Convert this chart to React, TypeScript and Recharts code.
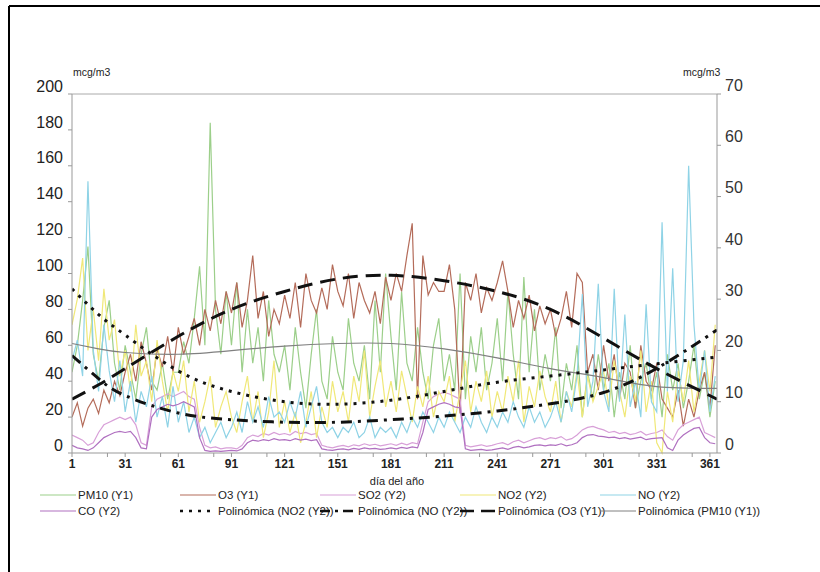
import React from 'react';
import { LineChart, Line, XAxis, YAxis, ReferenceLine } from 'recharts';

// daily readings, sampled every 3rd day of the year
const DAYS = Array.from({ length: 122 }, (_, i) => 1 + i * 3);
const TREND_DAYS = [1, 16, 31, 61, 91, 121, 151, 181, 211, 241, 271, 301, 331, 365];

const X_LABELS = [1, 31, 61, 91, 121, 151, 181, 211, 241, 271, 301, 331, 361];
const X_MINOR = [21, 51, 81, 111, 141, 171, 201, 231, 261, 291, 321, 351];
const Y1_TICKS = [0, 20, 40, 60, 80, 100, 120, 140, 160, 180, 200];
const Y2_TICKS = [0, 10, 20, 30, 40, 50, 60, 70];

// Y1 (left axis)
const PM10 = [
  45, 60, 85, 115, 55, 40, 70, 85, 50, 35,
  60, 45, 30, 55, 70, 40, 35, 50, 30, 45,
  45, 62, 50, 75, 104, 60, 184, 80, 55, 90,
  60, 95, 45, 80, 50, 70, 40, 85, 55, 45,
  60, 35, 70, 45, 25, 55, 80, 40, 30, 65,
  45, 35, 75, 50, 40, 60, 30, 85, 45, 100,
  65, 35, 90, 50, 40, 70, 45, 30, 60, 75,
  40, 55, 35, 100, 30, 65, 45, 70, 35, 50,
  75, 40, 90, 55, 30, 98, 45, 80, 35, 55,
  40, 70, 25, 50, 35, 60, 20, 45, 30, 55,
  35, 50, 20, 45, 30, 60, 25, 40, 50, 30,
  45, 20, 55, 35, 50, 25, 40, 60, 30, 45, 20, 40,
];
const O3 = [
  20, 28, 15, 25, 30, 22, 35, 28, 40, 32,
  45, 55, 40, 62, 50, 35, 58, 48, 65, 45,
  70, 55, 65, 75, 60, 80, 68, 85, 72, 90,
  78, 95, 70, 85, 110, 75, 90, 65, 80, 72,
  88, 75, 95, 70, 100, 85, 78, 92, 80, 105,
  90, 82, 100, 75, 95, 85, 78, 90, 72, 98,
  85, 100, 90, 110, 128, 30, 110, 88, 95, 90,
  90, 105, 80, 22, 95, 85, 100, 78, 92, 85,
  95, 107, 90, 70, 85, 75, 88, 68, 82, 72,
  80, 65, 75, 90, 70, 100, 95, 45, 55, 35,
  60, 40, 55, 30, 50, 45, 25, 60, 40, 35,
  50, 30, 25, 20, 35, 15, 30, 20, 35, 45, 25, 60,
];
// Y2 (right axis)
const SO2 = [
  3.5, 3, 2.5, 1.5, 2, 4, 5.5, 6, 6.5, 7,
  6.5, 7, 5.5, 2, 1.5, 9, 10.5, 11, 11.5, 11,
  11.5, 12, 11, 10.5, 5, 1.5, 1, 1.2, 0.8, 1,
  1, 0.8, 1.5, 3, 3.5, 3.2, 3.8, 3.5, 4, 3.6,
  3.8, 3.5, 4.2, 3.8, 4, 3.6, 3.8, 1.5, 1.2, 1,
  1.3, 1.5, 1.2, 1.6, 1.4, 1.8, 1.5, 1.7, 1.4, 1.6,
  1.8, 1.5, 1.9, 1.6, 2, 1.8, 6, 10, 11, 11.5,
  11.8, 11.5, 11, 10.5, 1.5, 1.2, 1.4, 1.6, 1.3, 1.5,
  1.8, 2, 1.6, 2.2, 2.5, 2, 2.4, 2.8, 3, 2.6,
  3, 2.8, 3.2, 2.5, 2.8, 3.5, 4.5, 5, 5.2, 4.8,
  4.5, 4, 4.2, 3.8, 4, 3.6, 3.8, 4.2, 3.5, 3.8,
  4, 4.5, 3.2, 2.5, 4.5, 5.5, 6, 6.5, 7, 4, 3.5, 3,
];
const NO2 = [
  25, 30, 38, 20, 28, 18, 32, 22, 26, 15,
  20, 12, 25, 15, 18, 10, 22, 14, 8, 16,
  12, 18, 8, 14, 6, 10, 15, 5, 9, 12,
  7, 4, 10, 15, 6, 12, 3, 8, 18, 5,
  10, 4, 8, 2, 6, 12, 3, 9, 5, 14,
  8, 12, 6, 15, 10, 20, 7, 13, 18, 9,
  14, 8, 16, 11, 6, 13, 9, 15, 7, 12,
  10, 15, 6, 12, 18, 8, 14, 10, 16, 7,
  12, 8, 15, 10, 18, 6, 13, 9, 16, 11,
  8, 14, 6, 12, 9, 16, 7, 15, 10, 13,
  16, 9, 18, 12, 7, 15, 10, 20, 8, 14,
  2, 0, 12, 6, 16, 10, 18, 8, 14, 20, 12, 25,
];
const NO = [
  18, 22, 15, 53, 20, 12, 25, 16, 10, 18,
  8, 14, 6, 12, 9, 15, 7, 11, 5, 13,
  6, 10, 4, 7, 3, 5, 2, 4, 6, 3,
  5, 8, 4, 10, 6, 9, 5, 11, 7, 8,
  6, 10, 7, 12, 5, 9, 13, 6, 4, 5,
  3, 5, 4, 6, 3, 4, 7, 3, 5, 4,
  5, 3, 6, 4, 7, 5, 8, 6, 4, 7,
  5, 8, 6, 4, 7, 5, 9, 6, 4, 7,
  5, 8, 6, 10, 7, 5, 9, 6, 8, 5,
  7, 10, 6, 12, 8, 15, 31, 9, 14, 33,
  12, 8, 32, 10, 27, 9, 14, 7, 29, 10,
  8, 45, 12, 36, 10, 18, 56, 25, 12, 20, 8, 15,
];
const CO = [
  1.5, 1, 0.8, 0.5, 1, 2, 3, 3.5, 4, 4.2,
  4, 4.2, 3, 1, 0.8, 7, 8.5, 9, 9.5, 9.2,
  9.5, 10, 9.5, 9, 3, 0.5, 0.3, 0.4, 0.3, 0.4,
  0.5, 0.4, 0.8, 2, 2.5, 2.3, 2.6, 2.4, 2.8, 2.5,
  2.6, 2.4, 2.8, 2.5, 2.7, 2.4, 2.6, 0.8, 0.6, 0.5,
  0.7, 0.8, 0.6, 0.9, 0.7, 1, 0.8, 0.9, 0.7, 0.8,
  1, 0.8, 1.1, 0.9, 1.2, 1, 4, 8.5, 9, 9.5,
  9.8, 9.5, 9, 8.8, 0.8, 0.5, 0.6, 0.7, 0.5, 0.6,
  0.8, 1, 0.7, 1.1, 1.3, 1, 1.2, 1.5, 1.6, 1.4,
  1.6, 1.5, 1.8, 1.4, 1.6, 2, 3, 3.5, 3.6, 3.3,
  3.2, 3, 3.1, 2.8, 3, 2.7, 2.9, 3.1, 2.6, 2.8,
  2.9, 3, 1, 0.5, 2.5, 3.5, 4.2, 4.8, 5, 3, 2, 1.8,
];

// polynomial trendlines
const NO2_POLY = [32, 27, 23, 16, 12, 10, 9.5, 10.3, 12, 13.8, 15, 16.2, 17.4, 18.7];
const NO_POLY = [19, 14.5, 11.2, 7.8, 6.5, 6, 6, 6.5, 7.2, 8.2, 9.6, 11.8, 16.5, 24];
const O3_POLY = [30, 38, 47, 65, 80, 90, 97, 99, 96, 90, 80, 64, 47, 30];
const PM10_POLY = [61, 58, 56, 55, 57, 59.5, 61, 61, 58, 53, 47, 42, 37, 36];

const C = {
  pm10: '#9ccf8a',
  o3: '#b46c5a',
  so2: '#d8a0d8',
  no2: '#f0e878',
  no: '#8fd3e6',
  co: '#b070c0',
  trend: '#111',
  pmTrend: '#808080',
};

const FONT = '"Liberation Sans", Arial, sans-serif';

const toPoints = (values: number[], days: number[]) =>
  values.map((v, i) => ({ day: days[i], v }));

const LeftTick = (props: any) => (
  <text x={props.x} y={props.y - 8} dy="0.355em" textAnchor="end" fontSize={16} fill="#222" fontFamily={FONT}>
    {props.payload.value}
  </text>
);

const RightTick = (props: any) => (
  <text x={props.x} y={props.y - 9} dy="0.355em" textAnchor="start" fontSize={16} fill="#333" fontFamily={FONT}>
    {props.payload.value}
  </text>
);

const XTick = (props: any) => {
  const v = props.payload.value;
  if (!X_LABELS.includes(v)) return <g />;
  return (
    <text x={props.x} y={props.y} dy="0.71em" textAnchor="middle" fontSize={12} fontWeight="bold" fill="#222" fontFamily={FONT}>
      {v}
    </text>
  );
};

const LEGEND = [
  { label: 'PM10 (Y1)', x: 40, row: 0, color: C.pm10, dash: undefined, w: 1.2 },
  { label: 'O3 (Y1)', x: 180, row: 0, color: C.o3, dash: undefined, w: 1.2 },
  { label: 'SO2 (Y2)', x: 320, row: 0, color: C.so2, dash: undefined, w: 1.2 },
  { label: 'NO2 (Y2)', x: 460, row: 0, color: C.no2, dash: undefined, w: 1.2 },
  { label: 'NO (Y2)', x: 600, row: 0, color: C.no, dash: undefined, w: 1.2 },
  { label: 'CO (Y2)', x: 40, row: 1, color: C.co, dash: undefined, w: 1.2 },
  { label: 'Polinómica (NO2 (Y2))', x: 180, row: 1, color: C.trend, dash: '3 6', w: 2.5 },
  { label: 'Polinómica (NO (Y2))', x: 320, row: 1, color: C.trend, dash: '10 5 3 5', w: 2.5 },
  { label: 'Polinómica (O3 (Y1))', x: 460, row: 1, color: C.trend, dash: '14 7', w: 2.5 },
  { label: 'Polinómica (PM10 (Y1))', x: 600, row: 1, color: C.pmTrend, dash: undefined, w: 1 },
];

const Overlay = () => (
  <svg width={820} height={572} style={{ position: 'absolute', left: 0, top: 0, pointerEvents: 'none' }}>
    <line x1={9} y1={6} x2={820} y2={6} stroke="#000" strokeWidth={2} />
    <line x1={9} y1={6} x2={9} y2={572} stroke="#000" strokeWidth={2} />
    <text x={73} y={76} fontSize={10.5} fill="#222" fontFamily={FONT}>mcg/m3</text>
    <text x={683} y={76} fontSize={10.5} fill="#222" fontFamily={FONT}>mcg/m3</text>
    <text x={397} y={485} fontSize={11} fill="#222" textAnchor="middle" fontFamily={FONT}>día del año</text>
    {LEGEND.map((item) => {
      const y = item.row === 0 ? 495 : 511;
      return (
        <g key={item.label}>
          <line x1={item.x} y1={y} x2={item.x + 36} y2={y} stroke={item.color} strokeWidth={item.w} strokeDasharray={item.dash} />
          <text x={item.x + 38} y={y} dy="0.355em" fontSize={11.5} fill="#222" fontFamily={FONT}>{item.label}</text>
        </g>
      );
    })}
  </svg>
);

const App = () => {
  const raw = [
    { key: 'pm10', values: PM10, axis: 'y1', color: C.pm10 },
    { key: 'o3', values: O3, axis: 'y1', color: C.o3 },
    { key: 'so2', values: SO2, axis: 'y2', color: C.so2 },
    { key: 'no2', values: NO2, axis: 'y2', color: C.no2 },
    { key: 'no', values: NO, axis: 'y2', color: C.no },
    { key: 'co', values: CO, axis: 'y2', color: C.co },
  ];
  const trends = [
    { key: 'pm10p', values: PM10_POLY, axis: 'y1', color: C.pmTrend, dash: undefined, w: 1.2 },
    { key: 'no2p', values: NO2_POLY, axis: 'y2', color: C.trend, dash: '3 6', w: 3 },
    { key: 'nop', values: NO_POLY, axis: 'y2', color: C.trend, dash: '11 6 3 6', w: 3 },
    { key: 'o3p', values: O3_POLY, axis: 'y1', color: C.trend, dash: '15 8', w: 3 },
  ];

  return (
    <div style={{ position: 'absolute', left: 0, top: 0, width: 820, height: 572, background: '#fff', fontFamily: FONT }}>
      <LineChart width={820} height={572} margin={{ top: 94, right: 43, bottom: 89, left: 0 }}>
        <XAxis
          dataKey="day"
          type="number"
          domain={[1, 365]}
          ticks={[...X_LABELS, ...X_MINOR].sort((a, b) => a - b)}
          interval={0}
          height={30}
          stroke="#999"
          tickSize={4}
          tickMargin={2}
          tick={<XTick />}
          allowDataOverflow
        />
        <YAxis
          yAxisId="y1"
          domain={[0, 200]}
          ticks={Y1_TICKS}
          interval={0}
          width={72}
          stroke="#999"
          tickSize={4}
          tickMargin={5}
          tick={<LeftTick />}
        />
        <YAxis
          yAxisId="y2"
          orientation="right"
          domain={[0, 70]}
          ticks={Y2_TICKS}
          interval={0}
          width={60}
          stroke="#999"
          tickSize={4}
          tickMargin={4}
          tick={<RightTick />}
        />
        <ReferenceLine yAxisId="y1" y={200} stroke="#aaa" />
        {raw.map((s) => (
          <Line
            key={s.key}
            data={toPoints(s.values, DAYS)}
            dataKey="v"
            yAxisId={s.axis}
            type="linear"
            stroke={s.color}
            strokeWidth={1.2}
            dot={false}
            isAnimationActive={false}
          />
        ))}
        {trends.map((s) => (
          <Line
            key={s.key}
            data={toPoints(s.values, TREND_DAYS)}
            dataKey="v"
            yAxisId={s.axis}
            type="natural"
            stroke={s.color}
            strokeWidth={s.w}
            strokeDasharray={s.dash}
            dot={false}
            isAnimationActive={false}
          />
        ))}
      </LineChart>
      <Overlay />
    </div>
  );
};

export default App;
